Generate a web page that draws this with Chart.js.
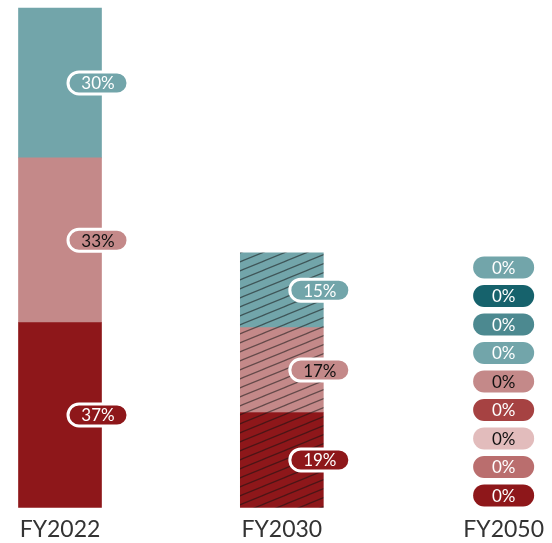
<!DOCTYPE html>
<html>
<head>
<meta charset="utf-8">
<script src="https://cdn.jsdelivr.net/npm/chart.js@4"></script>
<style>
  html, body { margin: 0; padding: 0; background: #fff; }
  #wrap { width: 552px; height: 543px; position: relative; }
</style>
</head>
<body>
<div id="wrap"><canvas id="chart"></canvas></div>
<script>
const categories = ['FY2022', 'FY2030', 'FY2050'];

// shares per category, bottom to top of the stack
const coalShare = [37, 19, null];
const gasShare = [33, 17, null];
const otherShare = [30, 15, null];

// FY2050 breakdown, bottom to top (all zero)
const fy2050Shares = [0, 0, 0, 0, 0, 0, 0, 0, 0];
const fy2050Colors = ['#8e171a', '#ba6e6e', '#e2bcbc', '#a64242', '#c48989',
                      '#72a5aa', '#4c8990', '#16626c', '#72a5aa'];
const fy2050TextColors = ['#fff', '#fff', '#111', '#fff', '#111',
                          '#fff', '#fff', '#fff', '#fff'];

const DARK_RED = '#8e171a';
const PINK = '#c48989';
const TEAL = '#72a5aa';

function hatch(color) {
  const tile = document.createElement('canvas');
  tile.width = 22;
  tile.height = 9;
  const c = tile.getContext('2d');
  c.fillStyle = color;
  c.fillRect(0, 0, 22, 9);
  c.strokeStyle = 'rgba(20,20,20,0.55)';
  c.lineWidth = 1.2;
  c.beginPath();
  c.moveTo(-22, 18); c.lineTo(22, 0);
  c.moveTo(0, 18); c.lineTo(44, 0);
  c.moveTo(-22, 9); c.lineTo(22, -9);
  c.stroke();
  return c.createPattern(tile, 'repeat');
}

function segment(label, data, color, textColor) {
  return {
    label,
    data,
    backgroundColor: [color, hatch(color), color],
    labelColor: color,
    textColor,
    clip: false,
  };
}

const datasets = [
  segment('Coal', coalShare, DARK_RED, '#fff'),
  segment('Gas', gasShare, PINK, '#111'),
  segment('Other', otherShare, TEAL, '#fff'),
];
fy2050Shares.forEach((v, i) => {
  datasets.push({
    label: 'FY2050 ' + (i + 1),
    data: [null, null, v],
    backgroundColor: 'rgba(0,0,0,0)',
    labelColor: fy2050Colors[i],
    textColor: fy2050TextColors[i],
    clip: false,
  });
});

function pill(ctx, cx, cy, w, h, fill, border) {
  ctx.beginPath();
  ctx.roundRect(cx - w / 2, cy - h / 2, w, h, h / 2);
  ctx.fillStyle = fill;
  ctx.fill();
  if (border) {
    ctx.lineWidth = 3;
    ctx.strokeStyle = '#fff';
    ctx.stroke();
  }
}

const pillLabels = {
  id: 'pillLabels',
  afterDatasetsDraw(chart) {
    const ctx = chart.ctx;
    const zeroCount = {};
    ctx.save();
    ctx.font = '17px Lato';
    ctx.textAlign = 'center';
    ctx.textBaseline = 'middle';
    chart.data.datasets.forEach((ds, di) => {
      const meta = chart.getDatasetMeta(di);
      meta.data.forEach((bar, i) => {
        const v = ds.data[i];
        if (v === null || v === undefined) return;
        let x, y;
        if (v === 0) {
          const k = zeroCount[i] || 0;
          zeroCount[i] = k + 1;
          x = bar.x;
          y = bar.base - 12 - k * 28.5;
          pill(ctx, x, y, 61, 22, ds.labelColor, false);
        } else {
          x = bar.x + 38;
          y = (bar.y + bar.base) / 2;
          pill(ctx, x, y, 60, 22, ds.labelColor, true);
        }
        ctx.fillStyle = ds.textColor;
        ctx.fillText(v + '%', x, y + 1);
      });
    });
    ctx.restore();
  }
};

new Chart(document.getElementById('chart'), {
  type: 'bar',
  data: {labels: categories, datasets},
  options: {
    responsive: true,
    maintainAspectRatio: false,
    animation: false,
    layout: {padding: {left: 60, right: 46, top: 8, bottom: -8}},
    datasets: {bar: {barThickness: 83, skipNull: false}},
    scales: {
      x: {
        stacked: true,
        offset: false,
        grid: {display: false, drawTicks: false},
        border: {display: false},
        ticks: {padding: 8, color: '#333', font: {family: 'Lato', size: 23}},
      },
      y: {stacked: true, display: false, min: 0, max: 100},
    },
    plugins: {legend: {display: false}, tooltip: {enabled: false}},
  },
  plugins: [pillLabels],
});
</script>
</body>
</html>
